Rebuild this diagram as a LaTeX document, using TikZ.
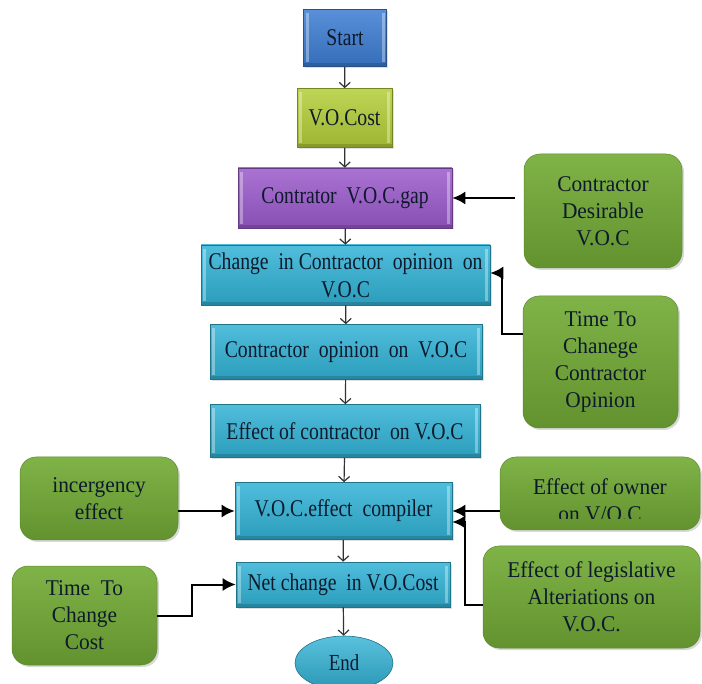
\documentclass[tikz,border=0pt]{standalone}
\usepackage{fontspec}
\setmainfont{Liberation Serif}
\newfontfamily\boxfont[FakeStretch=0.82]{Liberation Serif}
\newfontfamily\inputfont[FakeStretch=0.95]{Liberation Serif}
\usetikzlibrary{arrows.meta,shapes.geometric,shadows}

\definecolor{startblue}{HTML}{3C7CD2}
\definecolor{costgreen}{HTML}{B3CD38}
\definecolor{gappurple}{HTML}{9A5ACB}
\definecolor{stepcyan}{HTML}{31B2D5}
\definecolor{inputgreen}{HTML}{74AC37}
\definecolor{labelink}{HTML}{0E1A2C}

\tikzset{
  bevel/.style={path picture={
    \fill[white, opacity=0.35]
      ([xshift=2pt,yshift=-4pt]path picture bounding box.north west) rectangle
      ([xshift=5pt,yshift=4pt]path picture bounding box.south west);
    \fill[white, opacity=0.35]
      ([xshift=-2pt,yshift=-4pt]path picture bounding box.north east) rectangle
      ([xshift=-5pt,yshift=4pt]path picture bounding box.south east);
    \fill[black, opacity=0.15]
      ([yshift=3pt]path picture bounding box.south west) rectangle
      (path picture bounding box.south east);}},
  flowbox/.style={rectangle, draw=#1!65!black, line width=0.6pt,
    top color=#1!85!white, bottom color=#1!88!black, bevel,
    text=labelink, align=center, inner sep=2pt,
    font=\boxfont\fontsize{24}{28}\selectfont,
    drop shadow={opacity=0.25, shadow xshift=1.5pt, shadow yshift=-1.5pt}},
  inputbox/.style={rectangle, rounded corners=16pt, draw=inputgreen!80!black,
    line width=0.5pt, top color=inputgreen!92!white, bottom color=inputgreen!85!black,
    text=labelink, align=center, inner sep=2pt,
    font=\inputfont\fontsize{22.5}{27}\selectfont,
    drop shadow={opacity=0.3, shadow xshift=2pt, shadow yshift=-2pt}},
  flowarrow/.style={draw=black!80, line width=1.2pt,
    -{Straight Barb[length=5pt,width=11pt]}},
  sidearrow/.style={draw=black, line width=2pt,
    -{Latex[length=13pt,width=13pt]}},
}

\begin{document}
\begin{tikzpicture}[x=1pt,y=-1pt]
\useasboundingbox (0,0) rectangle (702,684);

% main chain
\node[flowbox=startblue, minimum width=83pt, minimum height=57pt] (start) at (345,38) {Start};
\node[flowbox=costgreen, minimum width=95pt, minimum height=59pt] (cost) at (344.5,118) {V.O.Cost};
\node[flowbox=gappurple, minimum width=214pt, minimum height=60pt] (gap) at (345,198) {Contrator\ \ V.O.C.gap};
\node[flowbox=stepcyan, minimum width=289pt, minimum height=60pt] (change) at (345.5,275)
  {Change\ \ in Contractor\ \ opinion\ \ on\\V.O.C};
\node[flowbox=stepcyan, minimum width=272pt, minimum height=55pt] (opinion) at (346,352)
  {Contractor\ \ opinion\ \ on\ \ V.O.C};
\node[flowbox=stepcyan, minimum width=270pt, minimum height=53pt] (effect) at (345,431)
  {Effect of contractor\ \ on V.O.C};
\node[flowbox=stepcyan, minimum width=217pt, minimum height=57pt] (compiler) at (343.5,511) {V.O.C.effect\ \ compiler};
\node[flowbox=stepcyan, minimum width=214pt, minimum height=45pt] (net) at (343,584.5) {Net change\ \ in V.O.Cost};
\node[ellipse, draw=stepcyan!65!black, line width=0.6pt,
  top color=stepcyan!80!white, bottom color=stepcyan!85!black,
  text=labelink, font=\boxfont\fontsize{23}{28}\selectfont,
  minimum width=98pt, minimum height=54pt, inner sep=1pt] (end) at (344,663) {End};

% input boxes
\node[inputbox, minimum width=158pt, minimum height=114pt] (desirable) at (603,211)
  {Contractor\\Desirable\\V.O.C};
\node[inputbox, minimum width=155pt, minimum height=132pt] (opiniontime) at (600.5,362)
  {Time To\\Chanege\\Contractor\\Opinion};
\node[inputbox, minimum width=158pt, minimum height=83pt] (incergency) at (99,498.5)
  {incergency\\effect};
\node[inputbox, minimum width=200pt, minimum height=73pt] (owner) at (600,493.5) {};
\begin{scope}
  \clip (500,455) rectangle (702,519);
  \node[text=labelink, align=center, font=\inputfont\fontsize{22.5}{27}\selectfont] (ownertext) at (600,500)
    {Effect of owner\\on V/O.C};
\end{scope}
\node[inputbox, minimum width=217pt, minimum height=102pt] (legis) at (591.5,597)
  {Effect of legislative\\Alteriations on\\V.O.C.};
\node[inputbox, minimum width=145pt, minimum height=99pt] (costtime) at (84.5,615.5)
  {Time\ \ To\\Change\\Cost};

% main flow
\draw[flowarrow] (start) -- (cost);
\draw[flowarrow] (cost) -- (gap);
\draw[flowarrow] (gap) -- (change);
\draw[flowarrow] (change) -- (opinion);
\draw[flowarrow] (opinion) -- (effect);
\draw[flowarrow] (effect) -- (compiler);
\draw[flowarrow] (compiler) -- (net);
\draw[flowarrow] (net) -- (end);

% side inputs
\draw[sidearrow] ([xshift=-9pt]desirable.west |- gap.east) -- (gap.east);
\draw[sidearrow] ([yshift=28pt]opiniontime.west) -- ++(-21,0) |- ([yshift=2pt]change.east);
\draw[sidearrow] (incergency.east |- compiler.west) -- (compiler.west);
\draw[sidearrow] (owner.west |- compiler.east) -- (compiler.east);
\draw[sidearrow] ([yshift=-8pt]legis.west) -- ++(-18,0) |- ([yshift=-11pt]compiler.east);
\draw[sidearrow] (costtime.east) -- ++(35,0) |- (net.west);

\end{tikzpicture}
\end{document}
